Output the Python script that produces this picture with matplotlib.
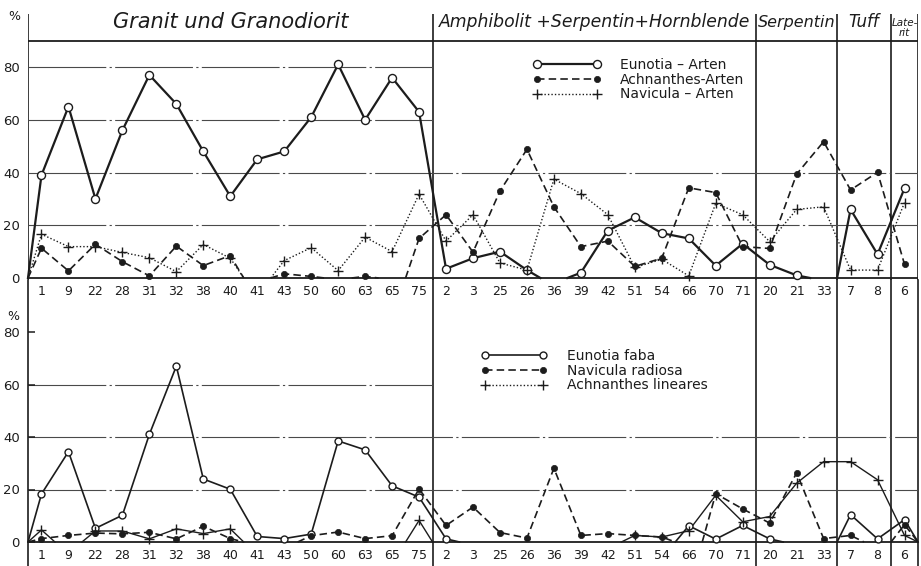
import matplotlib
matplotlib.use('Agg')
import matplotlib.pyplot as plt
from matplotlib.lines import Line2D

# ---------------- data ----------------
categories = ['1', '9', '22', '28', '31', '32', '38', '40', '41', '43', '50', '60', '63', '65', '75',
              '2', '3', '25', '26', '36', '39', '42', '51', '54', '66', '70', '71',
              '20', '21', '33',
              '7', '8',
              '6']
group_titles = ['Granit und Granodiorit', 'Amphibolit +Serpentin+Hornblende', 'Serpentin', 'Tuff', 'Late-\nrit']
group_sizes = [15, 12, 3, 2, 1]

# upper panel (%)
eunotia_arten = [39, 65, 30, 56, 77, 66, 48, 31, 45, 48, 61, 81, 60, 76, 63,
                 3.5, 7.5, 10, 3, 0, 2, 18, 23, 17, 15, 4.7, 13,
                 5, 1, 0,
                 26, 9,
                 34]
achnanthes_arten = [11.3, 2.7, 12.8, 6.2, 0.8, 12.1, 4.7, 8.5, 0, 1.6, 0.6, 0, 0.6, 0, 15,
                    24, 9.8, 33, 48.8, 27, 11.9, 14, 4.4, 7.5, 34.2, 32.4, 11.9,
                    11.2, 39.4, 51.7,
                    33.4, 40.1,
                    5.2]
navicula_arten = [16.6, 11.9, 11.9, 9.7, 7.7, 2.4, 12.7, 7.5, 0, 6.6, 11.5, 2.8, 15.5, 10, 31.8,
                  14, 24, 5.7, 3, 37.5, 32, 24, 4, 7.1, 0.8, 28.3, 24,
                  13.8, 26, 27,
                  3, 3,
                  28.6]

# lower panel (%)
eunotia_faba = [18.3, 34.4, 5.2, 10.2, 41, 67, 24, 20.1, 2.1, 1.3, 3.0, 38.5, 35.1, 21.4, 17.1,
                1.2, 0, 0, 0, 0, 0, 0, 0, 0, 6.2, 1.1, 6.3,
                1.2, 0, 0,
                10.4, 1.2,
                8.5]
navicula_radiosa = [1.3, 2.5, 3.4, 3.1, 3.7, 1.2, 6.0, 1.3, 0, 0, 2.4, 3.8, 1.3, 2.4, 20.2,
                    6.3, 13.3, 3.6, 1.5, 28.1, 2.5, 3.2, 2.5, 1.9, 0, 18.4, 12.6,
                    7.2, 26.3, 1.3,
                    2.5, 0,
                    6.6]
achnanthes_lineares = [4.6, 0, 4.2, 4.2, 1.2, 5.0, 3.2, 5.0, 0, 0, 0, 0, 0, 0, 8.2,
                       0, 0, 0, 0, 0, 0, 0, 2.5, 1.9, 4.3, 17.8, 7.7,
                       9.7, 22.4, 30.6,
                       30.6, 23.7,
                       2.5]

# ---------------- layout ----------------
W, H = 921, 566
INK = '#1c1c1c'
GRID = '#4a4a4a'
fig = plt.figure(figsize=(W / 100, H / 100), dpi=100)
fig.patch.set_facecolor('white')


def px_axes(x0, y0, x1, y1):
    return fig.add_axes([x0 / W, 1 - y1 / H, (x1 - x0) / W, (y1 - y0) / H])


ax1 = px_axes(28, 14, 918, 280)
ax2 = px_axes(28, 280, 918, 544)
ax2.set_facecolor('none')

k1 = (278 - 40.7) / 90.0
k2 = (542 - 332) / 80.0
ax1.set_ylim((278 - 280) / k1, (278 - 14) / k1)
ax2.set_ylim((542 - 544) / k2, (542 - 280) / k2)

n = len(categories)
xs = list(range(n))
for ax in (ax1, ax2):
    ax.set_xlim(-0.5, n - 0.5)
    for s in ax.spines.values():
        s.set_visible(False)
    ax.set_xticks(xs, categories)
    ax.tick_params(axis='x', length=0, pad=3.5, labelsize=9, colors=INK)

ax1.set_yticks([0, 20, 40, 60, 80])
ax1.tick_params(axis='y', length=0, pad=6, labelsize=9.5, colors=INK)
ax2.set_yticks([0, 20, 40, 60, 80])
ax2.tick_params(axis='y', direction='in', length=5, width=1.1, pad=6, labelsize=9.5, colors=INK)

# group boundaries
bounds = [-0.5]
for g in group_sizes:
    bounds.append(bounds[-1] + g)
for b in bounds:
    ax1.axvline(b, color=INK, lw=1.2, zorder=1)
    ax2.axvline(b, ymin=-0.12, ymax=1, color=INK, lw=1.2, zorder=1, clip_on=False)

# horizontal lines
grid_ls = (0, (70, 3, 2, 3))
ax1.axhline(0, color=INK, lw=1.3, zorder=1)
ax1.axhline(90, color=INK, lw=1.3, zorder=1)
for v in (20, 40):
    ax1.axhline(v, color=GRID, lw=0.8, ls=grid_ls, zorder=1)
for v in (60, 80):
    ax1.hlines(v, bounds[0], bounds[1], color=GRID, lw=0.8, ls=grid_ls, zorder=1)
ax2.axhline(0, color=INK, lw=1.3, zorder=1)
for v in (20, 40):
    ax2.axhline(v, color=GRID, lw=0.8, ls=grid_ls, zorder=1)
ax2.hlines(60, bounds[0], bounds[1], color=GRID, lw=0.8, ls=grid_ls, zorder=1)

# titles
title_sizes = [15, 12.4, 11.5, 12, 7.5]
for i, t in enumerate(group_titles):
    cx = (bounds[i] + bounds[i + 1]) / 2
    if '\n' in t:
        ax1.text(cx, (278 - 28) / k1, t, ha='center', va='center', style='italic',
                 fontsize=title_sizes[i], color=INK, linespacing=1.0)
    else:
        ax1.text(cx, (278 - 22) / k1, t, ha='center', va='center', style='italic',
                 fontsize=title_sizes[i], color=INK)

fig.text(14 / W, 1 - 16 / H, '%', ha='center', va='center', fontsize=9, color=INK)
fig.text(13 / W, 1 - 316 / H, '%', ha='center', va='center', fontsize=9, color=INK)


def draw(ax, vals, line_kw, mark_kw, close_right=False):
    m = len(vals)
    pts = [(-1, 0.0)] + list(enumerate(vals)) + ([(m, 0.0)] if close_right else [])
    runs = []
    rx, ry = [], []
    for k in range(len(pts) - 1):
        (xa, ya), (xb, yb) = pts[k], pts[k + 1]
        if ya == 0 and yb == 0:
            continue
        if ya != 0 and yb != 0:
            if not rx:
                rx, ry = [xa], [ya]
            rx.append(xb)
            ry.append(yb)
        elif ya == 0:
            rx, ry = [(xa + xb) / 2, xb], [0, yb]
        else:
            if not rx:
                rx, ry = [xa], [ya]
            rx.append((xa + xb) / 2)
            ry.append(0)
            runs.append((rx, ry))
            rx, ry = [], []
    if rx:
        runs.append((rx, ry))
    for a, b in runs:
        ax.plot(a, b, zorder=2, clip_on=False, **line_kw)
    mx = [i for i, v in enumerate(vals) if v != 0]
    my = [v for v in vals if v != 0]
    ax.plot(mx, my, ls='none', zorder=3, clip_on=False, **mark_kw)


open_c = dict(marker='o', ms=5.8, mfc='white', mec=INK, mew=1.0)
open_c2 = dict(marker='o', ms=5.0, mfc='white', mec=INK, mew=1.0)
fill_c = dict(marker='o', ms=4.5, mfc=INK, mec=INK, mew=0.5)
plus_m = dict(marker='+', ms=7, mec=INK, mew=1.0)

solid_thick = dict(color=INK, lw=1.6, ls='-')
solid_thin = dict(color=INK, lw=1.2, ls='-')
dashed = dict(color=INK, lw=1.2, ls=(0, (4.5, 2.5)))
dotted = dict(color=INK, lw=1.0, ls=(0, (1, 1.5)))

draw(ax1, eunotia_arten, solid_thick, open_c)
draw(ax1, achnanthes_arten, dashed, fill_c)
draw(ax1, navicula_arten, dotted, plus_m)

draw(ax2, eunotia_faba, solid_thin, open_c2, close_right=True)
draw(ax2, navicula_radiosa, dashed, fill_c, close_right=True)
draw(ax2, achnanthes_lineares, dict(color=INK, lw=1.0, ls='-'), plus_m, close_right=True)

# legends
h1 = Line2D([], [], **solid_thick, **open_c)
h2 = Line2D([], [], **dashed, **fill_c)
h3 = Line2D([], [], **dotted, **plus_m)
ax1.legend([h1, h2, h3], ['Eunotia – Arten', 'Achnanthes-Arten', 'Navicula – Arten'],
           loc='upper left', bbox_to_anchor=(533 / W, 1 - 58 / H), bbox_transform=fig.transFigure,
           frameon=False, fontsize=10, handlelength=4.9, handletextpad=1.35, labelspacing=0.05,
           borderpad=0, borderaxespad=0, numpoints=2, labelcolor=INK)

g1 = Line2D([], [], **solid_thin, **open_c2)
g2 = Line2D([], [], **dashed, **fill_c)
g3 = Line2D([], [], **dotted, **plus_m)
ax2.legend([g1, g2, g3], ['Eunotia faba', 'Navicula radiosa', 'Achnanthes lineares'],
           loc='upper left', bbox_to_anchor=(481 / W, 1 - 349 / H), bbox_transform=fig.transFigure,
           frameon=False, fontsize=10, handlelength=4.75, handletextpad=1.45, labelspacing=0.05,
           borderpad=0, borderaxespad=0, numpoints=2, labelcolor=INK)

fig.savefig('out.png', dpi=100, facecolor='white')
